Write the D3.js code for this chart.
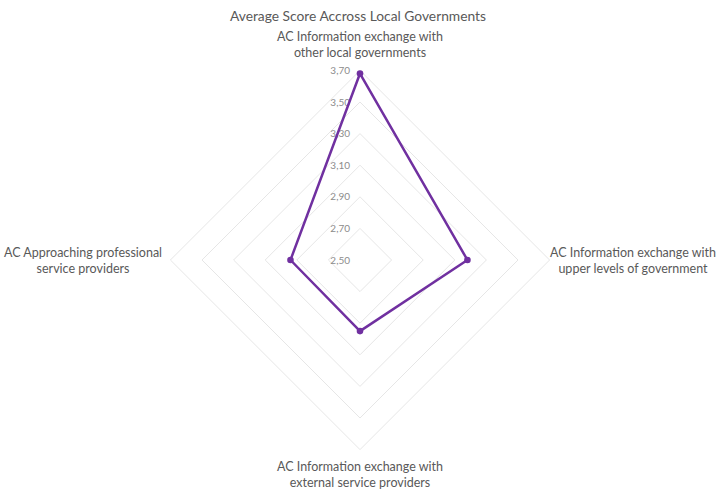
<!DOCTYPE html>
<html>
<head>
<meta charset="utf-8">
<script src="https://cdn.jsdelivr.net/npm/d3@7"></script>
<style>
  html, body { margin: 0; padding: 0; background: #ffffff; }
  svg { display: block; }
  text { font-family: Lato, "Open Sans", sans-serif; }
</style>
</head>
<body>
<svg id="chart" width="727" height="501"></svg>
<script>
// Radar chart: average score per dimension, across local governments
const chartTitle = "Average Score Accross Local Governments";
const categories = [
  ["AC Information exchange with", "other local governments"],
  ["AC Information exchange with", "upper levels of government"],
  ["AC Information exchange with", "external service providers"],
  ["AC Approaching professional", "service providers"]
];
const scores = [3.68, 3.18, 2.95, 2.94];
const tickValues = [2.5, 2.7, 2.9, 3.1, 3.3, 3.5, 3.7];
const tickLabels = ["2,50", "2,70", "2,90", "3,10", "3,30", "3,50", "3,70"];

const width = 727, height = 501;
const cx = 360, cy = 260, R = 189.6;

const svg = d3.select("#chart");

const r = d3.scaleLinear().domain([2.5, 3.7]).range([0, R]);
const angle = d3.scaleLinear()
  .domain([0, categories.length])
  .range([0, 2 * Math.PI]);

const g = svg.append("g").attr("transform", `translate(${cx},${cy})`);

// Gridline rings (diamonds)
const ring = d3.lineRadial()
  .angle((d, i) => angle(i))
  .radius(d => r(d))
  .curve(d3.curveLinearClosed);

g.append("g").attr("class", "grid")
  .selectAll("path")
  .data(tickValues.slice(1))
  .join("path")
  .attr("d", v => ring(categories.map(() => v)))
  .attr("fill", "none")
  .attr("stroke", "#e6e6e6")
  .attr("stroke-width", 1);

// Value labels along the top axis
g.append("g").attr("class", "ticks")
  .selectAll("text")
  .data(tickValues)
  .join("text")
  .attr("x", -10)
  .attr("y", v => -r(v))
  .attr("dy", "0.35em")
  .attr("text-anchor", "end")
  .attr("font-size", 10)
  .attr("fill", "#8c8c8c")
  .text((v, i) => tickLabels[i]);

// Series polygon
const series = d3.lineRadial()
  .angle((d, i) => angle(i))
  .radius(d => r(d))
  .curve(d3.curveLinearClosed);

g.append("path")
  .attr("d", series(scores))
  .attr("fill", "none")
  .attr("stroke", "#7030a0")
  .attr("stroke-width", 2.5)
  .attr("stroke-linejoin", "round");

const pt = (v, i) => {
  const a = angle(i) - Math.PI / 2;
  return [Math.cos(a) * r(v), Math.sin(a) * r(v)];
};

g.append("g").selectAll("circle")
  .data(scores)
  .join("circle")
  .attr("cx", (v, i) => pt(v, i)[0])
  .attr("cy", (v, i) => pt(v, i)[1])
  .attr("r", 3.3)
  .attr("fill", "#7030a0");

// Category labels
const labelPos = [
  { x: 0, y: -215.5 },
  { x: 273, y: 0.5 },
  { x: 0, y: 214.5 },
  { x: -277, y: 0.5 }
];
const lineH = 15.5;

g.append("g").attr("class", "cats")
  .selectAll("text")
  .data(categories)
  .join("text")
  .attr("text-anchor", "middle")
  .attr("font-size", 12.5)
  .attr("fill", "#595959")
  .each(function (lines, i) {
    const p = labelPos[i];
    const t = d3.select(this);
    const y0 = p.y - (lines.length - 1) * lineH / 2;
    lines.forEach((s, k) => {
      t.append("tspan")
        .attr("x", p.x)
        .attr("y", y0 + k * lineH)
        .attr("dy", "0.35em")
        .text(s);
    });
  });

// Title
svg.append("text")
  .attr("x", 358)
  .attr("y", 16)
  .attr("dy", "0.35em")
  .attr("text-anchor", "middle")
  .attr("font-size", 13.8)
  .attr("fill", "#595959")
  .text(chartTitle);
</script>
</body>
</html>
